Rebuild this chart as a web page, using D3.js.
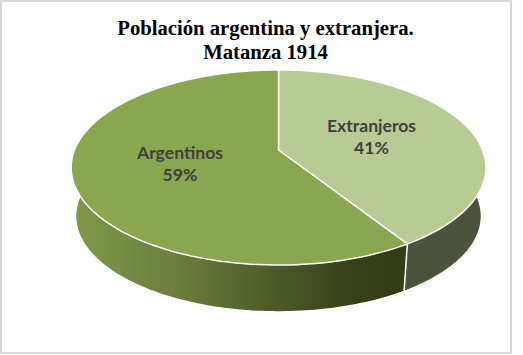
<!DOCTYPE html>
<html lang="es">
<head>
  <meta charset="UTF-8">
  <title>Matanza 1914</title>
  <style>
    html, body { margin: 0; padding: 0; background: #fff; overflow: hidden; }
    svg { display: block; }
    .title { font-family: "Liberation Serif", serif; font-weight: bold; font-size: 20.7px; fill: #000; text-anchor: middle; }
    .label { font-family: Lato, sans-serif; font-weight: bold; font-size: 17.6px; fill: #404040; text-anchor: middle; }
  </style>
  <script src="https://d3js.org/d3.v7.min.js"></script>
</head>
<body>
  <script>
    const categories = ['Extranjeros', 'Argentinos']
    const values = [41, 59]
    const titleLines = ['Población argentina y extranjera.', 'Matanza 1914']
    const topColors = ['#b9cb94', '#8aa64e']

    const W = 523, H = 355
    const svg = d3.select('body').append('svg').attr('width', W).attr('height', H)

    // marco del grafico
    svg.append('rect').attr('x', 1).attr('y', 1).attr('width', 510).attr('height', 352)
      .attr('fill', '#fff').attr('stroke', '#d9d9d9').attr('stroke-width', 2)

    const pie = d3.pie().sort(null).value(d => d)
    const arcs = pie(values)

    // proyeccion en perspectiva del disco
    const cx = 278.5, cy = 150, a = 204, b = 94.4, k = 0.1795
    const depth = 49, shrink = 0.975

    function project(angle, bottom) {
      const X = Math.sin(angle), Y = -Math.cos(angle)
      const s = bottom ? shrink : 1
      const q = 1 - k * Y
      return [cx + s * a * X / q, cy + (bottom ? depth : 0) + s * b * Y / q]
    }

    function arcPoints(start, end, bottom) {
      return d3.range(0, 121).map(i => project(start + (end - start) * i / 120, bottom))
    }

    const line = d3.line()
    const defs = svg.append('defs')

    const grad = defs.append('linearGradient').attr('id', 'wallLeft')
      .attr('gradientUnits', 'userSpaceOnUse')
      .attr('x1', 72).attr('x2', 408).attr('y1', 0).attr('y2', 0)
    const stops = [[0, '#7f9a4a'], [0.3, '#6c7f3d'], [0.62, '#4a5829'], [0.85, '#363f19'], [1, '#343c18']]
    stops.forEach(s => grad.append('stop').attr('offset', s[0]).attr('stop-color', s[1]))

    const wallColors = ['#4d533a', 'url(#wallLeft)']

    // paredes laterales: el borde superior llega mas arriba que el inferior
    const walls = svg.append('g')
    const topLim = 0.335, botLim = 0.24
    arcs.forEach((d, i) => {
      const s0 = Math.max(d.startAngle, Math.PI / 2 - topLim), e0 = Math.min(d.endAngle, 3 * Math.PI / 2 + topLim)
      const s1 = Math.max(d.startAngle, Math.PI / 2 - botLim), e1 = Math.min(d.endAngle, 3 * Math.PI / 2 + botLim)
      const pts = arcPoints(s0, e0, false).concat(arcPoints(s1, e1, true).reverse())
      walls.append('path').attr('d', line(pts) + 'Z')
        .attr('fill', wallColors[i]).attr('stroke', 'none')
    })
    // separacion blanca en la pared
    walls.append('path')
      .attr('d', line([project(arcs[0].endAngle, false), project(arcs[0].endAngle, true)]))
      .attr('stroke', '#fff').attr('stroke-width', 1.5).attr('fill', 'none')

    // cara superior
    svg.append('g').selectAll('path').data(arcs).enter().append('path')
      .attr('d', d => line([[cx, cy]].concat(arcPoints(d.startAngle, d.endAngle, false))) + 'Z')
      .attr('fill', (d, i) => topColors[i])
      .attr('stroke', '#fff').attr('stroke-width', 1.5).attr('stroke-linejoin', 'round')

    // titulo
    svg.selectAll('text.title').data(titleLines).enter().append('text')
      .attr('class', 'title').attr('x', 265.5).attr('y', (d, i) => 35 + i * 24).text(d => d)

    // etiquetas
    const labelPos = [[371.5, 132], [180, 159]]
    categories.forEach((c, i) => {
      const g = svg.append('text').attr('class', 'label')
      g.append('tspan').attr('x', labelPos[i][0]).attr('y', labelPos[i][1]).text(c)
      g.append('tspan').attr('x', labelPos[i][0]).attr('y', labelPos[i][1] + 22).text(values[i] + '%')
    })
  </script>
</body>
</html>
